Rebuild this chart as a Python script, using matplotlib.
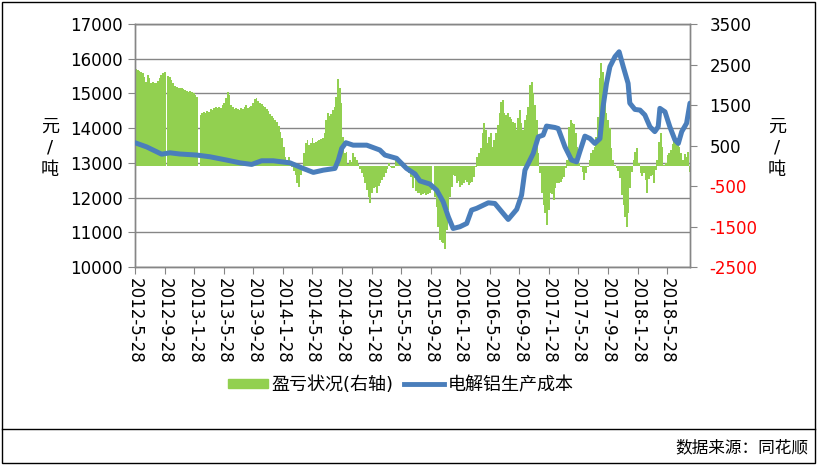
import numpy as np
import pandas as pd
import matplotlib
matplotlib.use("Agg")
import matplotlib.pyplot as plt
from matplotlib.lines import Line2D
from matplotlib.patches import Patch, Rectangle

plt.rcParams['font.family'] = ['DejaVu Sans', 'Noto Sans CJK SC']

# x轴标签 (每4个月)
tick_labels = ["2012-5-28", "2012-9-28", "2013-1-28", "2013-5-28", "2013-9-28",
               "2014-1-28", "2014-5-28", "2014-9-28", "2015-1-28", "2015-5-28",
               "2015-9-28", "2016-1-28", "2016-5-28", "2016-9-28", "2017-1-28",
               "2017-5-28", "2017-9-28", "2018-1-28", "2018-5-28"]

# 电解铝生产成本 (元/吨, 左轴)
cost_dates = ["2012-05-28", "2012-07-15", "2012-09-15", "2012-10-19", "2012-11-29",
              "2013-02-06", "2013-04-02", "2013-06-10", "2013-08-04", "2013-09-21",
              "2013-11-01", "2013-12-19", "2014-02-26", "2014-04-21", "2014-06-02",
              "2014-07-13", "2014-08-30", "2014-09-13", "2014-09-27", "2014-10-14",
              "2014-11-13", "2015-01-08", "2015-03-03", "2015-03-24", "2015-05-11",
              "2015-06-21", "2015-07-26", "2015-08-15", "2015-09-25", "2015-10-23",
              "2015-11-19", "2015-12-10", "2015-12-30", "2016-01-27", "2016-02-24",
              "2016-03-15", "2016-04-05", "2016-05-23", "2016-06-19", "2016-07-23",
              "2016-08-13", "2016-09-17", "2016-10-07", "2016-10-21", "2016-11-24",
              "2016-12-15", "2017-01-04", "2017-01-18", "2017-02-21", "2017-03-07",
              "2017-04-04", "2017-05-01", "2017-05-22", "2017-06-04", "2017-06-25",
              "2017-07-16", "2017-08-05", "2017-08-26", "2017-09-08", "2017-09-22",
              "2017-10-06", "2017-10-27", "2017-11-13", "2017-11-30", "2017-12-20",
              "2017-12-27", "2018-01-17", "2018-02-07", "2018-02-27", "2018-03-20",
              "2018-04-09", "2018-04-23", "2018-04-30", "2018-05-21", "2018-06-10",
              "2018-07-01", "2018-07-15", "2018-07-29", "2018-08-18", "2018-09-01"]
cost_values = [13580, 13460, 13250, 13290, 13255, 13225, 13175, 13080, 13000, 12955,
               13060, 13060, 13000, 12840, 12725, 12790, 12840, 13080, 13420, 13580,
               13510, 13510, 13370, 13225, 13130, 12840, 12680, 12480, 12390, 12215,
               11880, 11450, 11110, 11160, 11255, 11640, 11690, 11850, 11830, 11545,
               11370, 11660, 12070, 12790, 13270, 13750, 13800, 14060, 14020, 13990,
               13460, 13080, 13030, 13320, 13770, 13700, 13560, 13700, 14620, 15290,
               15770, 16060, 16200, 15770, 15290, 14720, 14540, 14520, 14380, 14040,
               13900, 14040, 14570, 14470, 14040, 13660, 13560, 13900, 14140, 14720]

# 盈亏状况 (元/吨, 右轴), 周度, 起始 2012-05-28
pl_start = "2012-05-28"
nan = np.nan
pl_values = [
    2380, 2365, 2350, 2325, 2283, 2200, 2077, 2242, 2160, 2053,
    2077, 2036, 2036, 2102, 2160, 2242, 2300, 2325, nan, 2217,
    2184, 2119, 2053, 1970, 1954, 1913, 1929, 1913, 1896, 1872,
    1855, 1830, 1847, 1830, 1789, 1748, 1691, nan, 1254, 1295,
    1337, 1295, 1361, 1337, 1394, 1378, 1419, 1444, 1419, 1444,
    1419, 1501, 1542, 1666, 1830, 1748, 1501, 1444, 1394, 1419,
    1394, 1378, 1419, 1394, 1460, 1501, 1419, 1444, 1477, 1542,
    1641, 1666, 1608, 1559, 1526, 1477, 1444, 1394, 1361, 1279,
    1230, 1172, 1131, 1090, 983, 843, 678, 473, 226, 143,
    209, 61, -38, -120, -227, -433, -515, -227, -21, 308,
    555, 637, 514, 571, 678, 571, 596, 620, 637, 653,
    678, 802, 1131, 1296, 1230, 1279, 1378, 1444, 1707, 2135,
    1913, 1542, 719, 308, 349, 44, 143, 102, 308, 226,
    143, 44, -87, -186, -285, -433, -598, -762, -927, -680,
    -557, -515, -680, -499, -433, -351, -268, -169, -87, 61,
    -21, -62, -62, 184, 226, 102, 61, -21, -38, -62,
    -104, -186, -268, -557, -309, -614, -663, -680, -721, -696,
    -680, -721, -696, -663, -598, nan, -762, -1009, -1503, -1832,
    -1873, -1914, -2062, -1585, -1091, -762, -515, -227, -252, -416,
    -367, -515, -474, -416, -351, -392, -474, -416, -392, -268,
    -21, 226, 308, 431, 802, 1049, 884, 555, 719, 802,
    473, 637, 802, 1008, 1296, 1584, 1625, 1296, 1254, 1296,
    1197, 1147, 1090, 1049, 884, 1172, 1378, 1049, 884, 1131,
    1254, 1460, 1995, 2077, 1789, 1501, 1131, 308, -186, -680,
    -968, -1174, -1462, -1091, -680, -700, -845, -557, -433, -416,
    -392, -334, -268, -62, 143, 966, 1131, 1049, 1032, 802,
    473, 61, -21, -145, -351, -186, -21, 143, 308, 390,
    473, 719, 1213, 2159, 2530, 2324, 1872, 1296, 1131, 925,
    431, 143, 20, -62, -120, -309, -721, -968, -1256, -1503,
    -1174, -557, -145, 143, 349, 431, 61, -186, -252, -169,
    -351, -680, -334, -252, -227, -416, -104, 143, 596, 802,
    473, 20, 61, 267, 324, 390, 538, 703, 596, 538,
    473, 308, 143, 291, 226, 349, -145]

left_ticks = [10000, 11000, 12000, 13000, 14000, 15000, 16000, 17000]
right_ticks = [-2500, -1500, -500, 500, 1500, 2500, 3500]

GREEN = '#92D050'
BLUE = '#4A7EBB'
GRID = '#868686'

pl_dates = pd.date_range(pl_start, periods=len(pl_values), freq='7D')
cost_x = pd.to_datetime(cost_dates)
tick_x = pd.to_datetime(tick_labels, format="%Y-%m-%d")

fig = plt.figure(figsize=(8.18, 4.69), dpi=100)
ax = fig.add_axes([0.165, 0.4307, 0.6785, 0.5181])
ax2 = ax.twinx()
ax3 = ax.twinx()

# 网格 (左轴)
ax.set_ylim(10000, 17000)
ax.set_yticks(left_ticks, labels=[str(v) for v in left_ticks])
ax.grid(axis='y', color=GRID, lw=1.0)
ax.set_axisbelow(True)

# 盈亏柱 (右轴)
ax2.bar(pl_dates, pl_values, width=7.6, align='edge', color=GREEN, lw=0,
        antialiased=False)
ax2.set_ylim(-2500, 3500)
ax2.set_yticks(right_ticks, labels=[str(v) for v in right_ticks])
for lab, v in zip(ax2.get_yticklabels(), right_ticks):
    lab.set_color('#FF0000' if v < 0 else 'black')

# 成本线 (左轴刻度)
ax3.plot(cost_x, cost_values, color=BLUE, lw=3.6, solid_capstyle='round',
         solid_joinstyle='round')
ax3.set_ylim(10000, 17000)
ax3.axis('off')

ax.set_xlim(pd.Timestamp("2012-05-28"), pd.Timestamp("2018-09-01"))
ax.set_xticks(tick_x, labels=tick_labels, rotation=270, ha='center', va='top')

for a in (ax, ax2):
    for s in a.spines.values():
        s.set_color(GRID)
        s.set_linewidth(1.0)
ax.tick_params(axis='y', direction='out', length=5, color=GRID, labelsize=12, pad=4)
ax.tick_params(axis='x', direction='out', length=5, color=GRID, labelsize=12, pad=3)
ax2.tick_params(axis='y', direction='out', length=5, color=GRID, labelsize=12, pad=9)

fig.text(50 / 818, 1 - 148 / 469, "元\n/\n吨", ha='center', va='center',
         fontsize=13, linespacing=1.25)
fig.text(777 / 818, 1 - 148 / 469, "元\n/\n吨", ha='center', va='center',
         fontsize=13, linespacing=1.25)

handles = [Patch(color=GREEN), Line2D([], [], color=BLUE, lw=3.5)]
fig.legend(handles, ["盈亏状况(右轴)", "电解铝生产成本"], loc='center',
           bbox_to_anchor=(0.49, 0.179), ncol=2, frameon=False, fontsize=13,
           handlelength=2.2, handleheight=0.45, columnspacing=0.6, handletextpad=0.2)

# 外框与数据来源
fig.add_artist(Rectangle((2 / 818, 6 / 469), 813 / 818, 461 / 469,
                         transform=fig.transFigure, fill=False, ec='black', lw=1.0))
fig.add_artist(Line2D([2 / 818, 815 / 818], [40 / 469, 40 / 469],
                      transform=fig.transFigure, color='black', lw=1.0))
fig.text(808 / 818, 22 / 469, "数据来源：同花顺", ha='right', va='center', fontsize=12)

fig.savefig("out.png", dpi=100)
